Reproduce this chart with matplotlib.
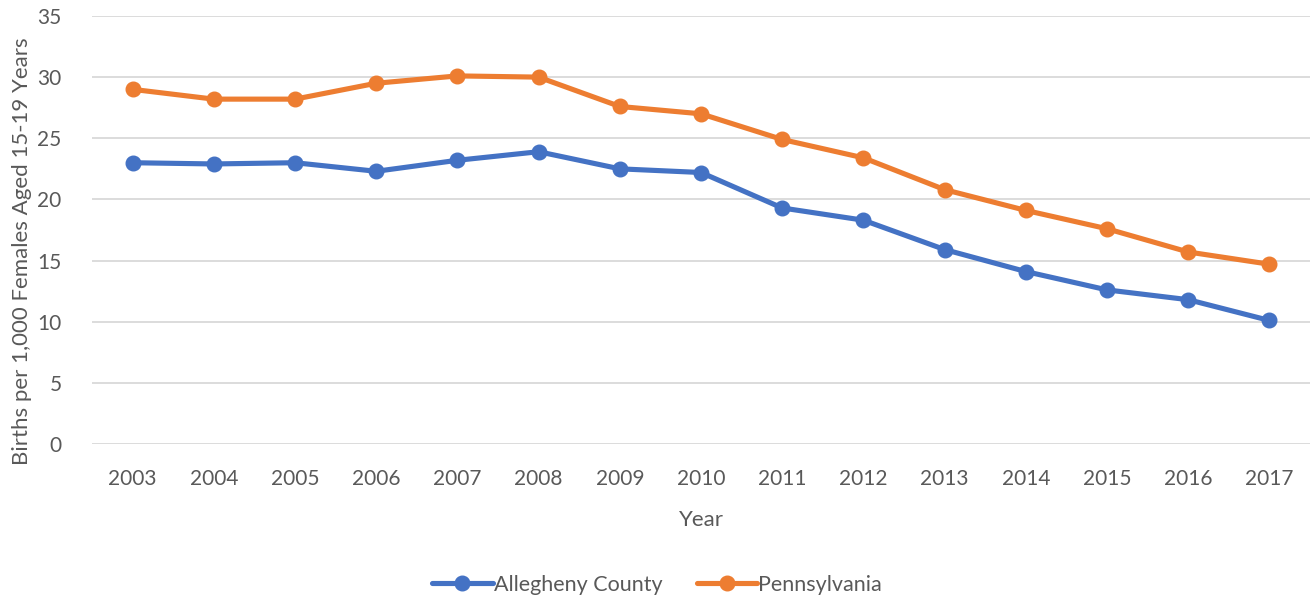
import matplotlib
matplotlib.use("Agg")
import matplotlib.pyplot as plt

plt.rcParams['font.family'] = ['Lato', 'DejaVu Sans']

years = [2003, 2004, 2005, 2006, 2007, 2008, 2009, 2010,
         2011, 2012, 2013, 2014, 2015, 2016, 2017]
allegheny = [23.0, 22.9, 23.0, 22.3, 23.2, 23.9, 22.5, 22.2,
             19.3, 18.3, 15.9, 14.1, 12.6, 11.8, 10.1]
pennsylvania = [29.0, 28.2, 28.2, 29.5, 30.1, 30.0, 27.6, 27.0,
                24.9, 23.4, 20.8, 19.1, 17.6, 15.7, 14.7]

text_col = "#595959"
grid_col = "#D9D9D9"

fig = plt.figure(figsize=(13.14, 6.03), dpi=100)
ax = fig.add_axes([0.070, 0.2637, 0.927, 0.7098])

xpos = list(range(len(years)))
ax.plot(xpos, allegheny, color="#4472C4", lw=3.7, marker="o", ms=10.5,
        label="Allegheny County", solid_capstyle="round")
ax.plot(xpos, pennsylvania, color="#ED7D31", lw=3.7, marker="o", ms=10.5,
        label="Pennsylvania", solid_capstyle="round")

ax.set_xlim(-0.5, len(years) - 0.5)
ax.set_ylim(0, 35)
ax.set_yticks(range(0, 36, 5))
ax.set_xticks(xpos)
ax.set_xticklabels([str(y) for y in years])
ax.yaxis.grid(True, color=grid_col, lw=1.3)
ax.set_axisbelow(True)
for s in ax.spines.values():
    s.set_visible(False)
ax.tick_params(length=0, labelsize=15, labelcolor=text_col)
ax.tick_params(axis="x", pad=18)
ax.tick_params(axis="y", pad=22)

ax.set_xlabel("Year", fontsize=16, color=text_col, labelpad=15)
ax.set_ylabel("Births per 1,000 Females Aged 15-19 Years", fontsize=16,
              color=text_col)
ax.yaxis.set_label_coords(-0.049, 0.45)

leg = fig.legend(loc="center", bbox_to_anchor=(0.5, 0.03), ncol=2,
                 frameon=False, fontsize=15.5, handlelength=2.8,
                 columnspacing=1.6, handletextpad=0.05)
for t in leg.get_texts():
    t.set_color(text_col)

fig.savefig("out.png", dpi=100)
